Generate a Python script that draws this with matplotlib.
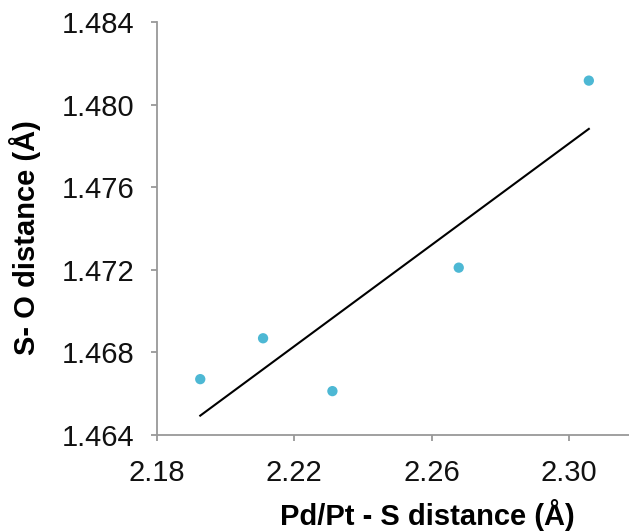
import numpy as np
import matplotlib
matplotlib.use("Agg")
import matplotlib.pyplot as plt

plt.rcParams['font.family'] = ['Liberation Sans', 'DejaVu Sans']

# Pd/Pt–S and S–O bond distances (Å)
pd_s = [2.1926, 2.2109, 2.2311, 2.2679, 2.3058]
s_o = [1.4667, 1.46868, 1.46612, 1.4721, 1.48116]
x_ticks = [2.18, 2.22, 2.26, 2.30]
y_ticks = [1.464, 1.468, 1.472, 1.476, 1.480, 1.484]

fig = plt.figure(figsize=(6.29, 5.31), dpi=100)
ax = fig.add_axes([0.2496, 0.181, 0.7504, 0.7776])

ax.scatter(pd_s, s_o, s=55, color='#4db8d4', zorder=3, edgecolors='none')

# least-squares trend line across the data range
slope, intercept = np.polyfit(pd_s, s_o, 1)
xf = np.array([min(pd_s), max(pd_s)])
ax.plot(xf, slope * xf + intercept, color='black', lw=1.5, zorder=2)

ax.set_xlim(2.18, 2.3175)
ax.set_ylim(1.464, 1.484)
ax.set_xticks(x_ticks)
ax.set_xticklabels([f"{v:.2f}" for v in x_ticks])
ax.set_yticks(y_ticks)
ax.set_yticklabels([f"{v:.3f}" for v in y_ticks])

for side in ('top', 'right'):
    ax.spines[side].set_visible(False)
for side in ('left', 'bottom'):
    ax.spines[side].set_color('#999999')
    ax.spines[side].set_linewidth(1.3)
ax.tick_params(direction='out', length=4.5, width=1.3, color='#999999',
               labelsize=21, labelcolor='#111111')
ax.tick_params(axis='x', pad=13)
ax.tick_params(axis='y', pad=12)

fig.text(0.679, 0.030, 'Pd/Pt - S distance (Å)', fontsize=21, fontweight='bold',
         ha='center', va='center')
fig.text(0.04, 0.552, 'S- O distance (Å)', fontsize=21, fontweight='bold',
         ha='center', va='center', rotation=90)

fig.savefig('out.png', dpi=100)
